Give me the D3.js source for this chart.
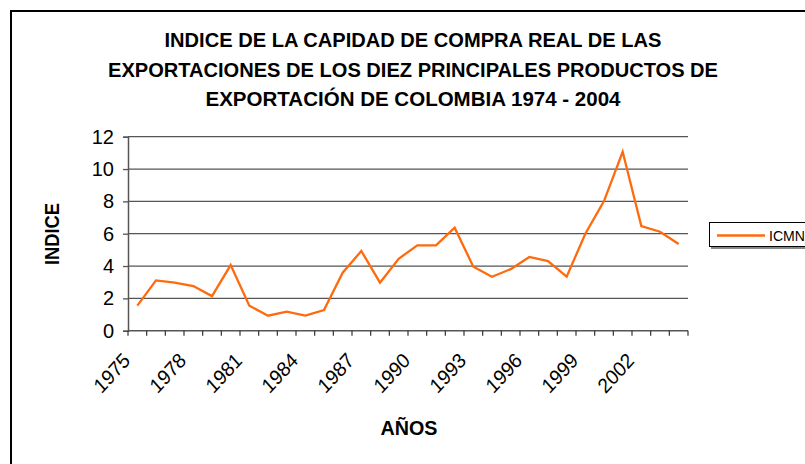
<!DOCTYPE html>
<html>
<head>
<meta charset="utf-8">
<script src="https://cdn.jsdelivr.net/npm/d3@7"></script>
<style>
  html, body { margin: 0; padding: 0; background: #fff; }
  svg { display: block; font-family: "Liberation Sans", Arial, sans-serif; }
</style>
</head>
<body>
<svg id="chart" width="805" height="464"></svg>
<script>
const years = [1975,1976,1977,1978,1979,1980,1981,1982,1983,1984,1985,1986,1987,1988,1989,
               1990,1991,1992,1993,1994,1995,1996,1997,1998,1999,2000,2001,2002,2003,2004];
const icmn = [1.55,3.11,2.97,2.76,2.14,4.06,1.55,0.93,1.18,0.93,1.28,3.59,4.93,2.97,4.45,
              5.28,5.28,6.37,3.96,3.34,3.81,4.56,4.31,3.34,6.0,8.02,11.07,6.47,6.12,5.36];
const yTicks = [0,2,4,6,8,10,12];
const xLabelYears = [1975,1978,1981,1984,1987,1990,1993,1996,1999,2002];
const titleLines = ["INDICE DE LA CAPIDAD DE COMPRA REAL DE LAS",
                    "EXPORTACIONES DE LOS DIEZ PRINCIPALES PRODUCTOS DE",
                    "EXPORTACIÓN DE COLOMBIA 1974 - 2004"];
const seriesName = "ICMN";

(function () {
const svg = d3.select("#chart");
const pLeft = 128, pRight = 688, pTop = 136.7, pBottom = 330.7;

// outer border
svg.append("rect").attr("x", 11).attr("y", 11).attr("width", 820).attr("height", 470)
  .attr("fill", "#fff").attr("stroke", "#000").attr("stroke-width", 2);

const x = d3.scaleBand().domain(years).range([pLeft, pRight]).padding(0);
const y = d3.scaleLinear().domain([0, 12]).range([pBottom, pTop]);

// gridlines
svg.append("g").selectAll("line").data(yTicks.filter(d => d > 0)).join("line")
  .attr("x1", pLeft).attr("x2", pRight)
  .attr("y1", d => y(d)).attr("y2", d => y(d))
  .attr("stroke", "#555").attr("stroke-width", 1.3);

// y axis
const yAxis = d3.axisLeft(y).tickValues(yTicks).tickSize(5).tickPadding(9).tickFormat(d3.format("d"));
const gy = svg.append("g").attr("transform", `translate(${pLeft},0)`).call(yAxis);
gy.select(".domain").attr("stroke", "#555").attr("stroke-width", 1.5);
gy.selectAll(".tick line").attr("stroke", "#555").attr("stroke-width", 1.3);
gy.selectAll(".tick text").attr("font-size", 20).attr("fill", "#000")
  .attr("font-family", "Liberation Sans, Arial, sans-serif");

// x axis: ticks at category boundaries
const boundaries = d3.range(years.length + 1).map(i => pLeft + i * x.bandwidth());
svg.append("line").attr("x1", pLeft).attr("x2", pRight).attr("y1", pBottom).attr("y2", pBottom)
  .attr("stroke", "#555").attr("stroke-width", 1.5);
svg.append("g").selectAll("line").data(boundaries).join("line")
  .attr("x1", d => d).attr("x2", d => d).attr("y1", pBottom).attr("y2", pBottom + 5)
  .attr("stroke", "#333").attr("stroke-width", 1.2);

// x labels rotated
svg.append("g").selectAll("text").data(xLabelYears).join("text")
  .attr("transform", d => `translate(${x(d) + x.bandwidth() / 2 - 6},${pBottom + 31}) scale(1,1.1) rotate(-45)`)
  .attr("text-anchor", "end").attr("font-size", 19).attr("fill", "#000")
  .text(d => d);

// line
const line = d3.line().x((d, i) => x(years[i]) + x.bandwidth() / 2).y(d => y(d));
svg.append("path").datum(icmn).attr("d", line)
  .attr("fill", "none").attr("stroke", "#FF6A0D").attr("stroke-width", 2.3)
  .attr("stroke-linejoin", "miter");

// title
const titleWidths = [497, 610, 415];
svg.append("g").selectAll("text").data(titleLines).join("text")
  .attr("x", 413).attr("y", (d, i) => 47 + i * 29.5)
  .attr("text-anchor", "middle").attr("font-size", 20.5).attr("font-weight", "bold")
  .attr("textLength", (d, i) => titleWidths[i]).attr("lengthAdjust", "spacingAndGlyphs")
  .text(d => d);

// axis titles
svg.append("text").attr("transform", "translate(59,234) rotate(-90)")
  .attr("text-anchor", "middle").attr("font-size", 20.5).attr("font-weight", "bold")
  .attr("textLength", 62).attr("lengthAdjust", "spacingAndGlyphs")
  .text("INDICE");
svg.append("text").attr("x", 409).attr("y", 435)
  .attr("text-anchor", "middle").attr("font-size", 20.5).attr("font-weight", "bold")
  .attr("textLength", 57).attr("lengthAdjust", "spacingAndGlyphs")
  .text("AÑOS");

// legend
svg.append("rect").attr("x", 711).attr("y", 224).attr("width", 120).attr("height", 25).attr("fill", "#888");
svg.append("rect").attr("x", 709.5).attr("y", 222.5).attr("width", 120).attr("height", 24)
  .attr("fill", "#fff").attr("stroke", "#000").attr("stroke-width", 1);
svg.append("line").attr("x1", 717).attr("x2", 765).attr("y1", 235.5).attr("y2", 235.5)
  .attr("stroke", "#FF6A0D").attr("stroke-width", 2.3);
svg.append("text").attr("x", 769).attr("y", 240.5).attr("font-size", 14).attr("fill", "#000")
  .attr("textLength", 36).attr("lengthAdjust", "spacingAndGlyphs")
  .text(seriesName);
})();
</script>
</body>
</html>
